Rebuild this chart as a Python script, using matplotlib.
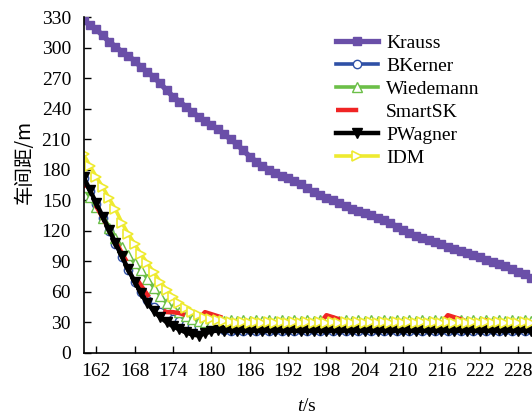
import numpy as np
import matplotlib
matplotlib.use("Agg")
import matplotlib.pyplot as plt

plt.rcParams['font.family'] = ['Liberation Serif', 'DejaVu Serif']
plt.rcParams['mathtext.fontset'] = 'custom'
plt.rcParams['mathtext.it'] = 'Liberation Serif:italic'
plt.rcParams['mathtext.rm'] = 'Liberation Serif'

#=============================================================================
# DATA  (gap in m, one sample per second from t = 160 s to 230 s)
#=============================================================================

t = np.arange(160, 231)

krauss = [327, 322, 318, 312, 306, 301, 296, 292, 287, 281,
          276, 271, 265, 258, 252, 247, 242, 237, 232, 228,
          224, 220, 215, 210, 205, 199, 193, 188, 184, 180,
          177, 174, 172, 169, 166, 162, 158, 155, 152, 150,
          147, 144, 141, 139, 137, 135, 133, 131, 128, 124,
          121, 118, 115, 113, 111, 109, 107, 104, 102, 100,
          98, 96, 94, 91, 89, 87, 85, 82, 79, 77, 74]

bkerner = [172, 159, 146, 133, 120, 107, 94, 81, 70, 60,
           52, 45, 40, 36, 33, 31, 28, 26, 25, 25,
           26, 24, 22, 21, 22, 21, 22, 21, 22, 21,
           22, 21, 22, 21, 22, 21, 22, 21, 22, 21,
           22, 21, 22, 21, 22, 21, 22, 21, 22, 21,
           22, 21, 22, 21, 22, 21, 22, 21, 22, 21,
           22, 21, 22, 21, 22, 21, 22, 21, 22, 21, 22]

wiedemann = [163, 153, 143, 133, 123, 113, 104, 96, 88, 81,
             73, 64, 56, 49, 44, 40, 36, 33, 31, 30,
             30, 31, 31, 32, 31, 32, 31, 32, 31, 32,
             31, 32, 31, 32, 31, 32, 31, 32, 31, 32,
             31, 32, 31, 32, 31, 32, 31, 32, 31, 32,
             31, 32, 31, 32, 31, 32, 31, 32, 31, 32,
             31, 32, 31, 32, 31, 32, 31, 32, 31, 32, 31]

smartsk = [168, 156, 144, 133, 121, 110, 98, 87, 76, 66,
           57, 49, 43, 40, 40, 39, 37, 35, 33, 40,
           38, 36, 34, 32, 31, 30, 29, 29, 29, 29,
           29, 29, 29, 29, 29, 29, 29, 29, 37, 35,
           33, 31, 30, 29, 29, 29, 29, 29, 29, 29,
           29, 29, 29, 29, 29, 29, 29, 37, 35, 33,
           31, 30, 29, 32, 30, 29, 29, 29, 29, 29, 29]

pwagner = [173, 160, 147, 134, 121, 108, 95, 82, 70, 59,
           49, 41, 35, 30, 26, 23, 20, 18, 17, 19,
           21, 22, 21, 22, 21, 22, 21, 22, 21, 22,
           21, 22, 21, 22, 21, 22, 21, 22, 21, 22,
           21, 22, 21, 22, 21, 22, 21, 22, 21, 22,
           21, 22, 21, 22, 21, 22, 21, 22, 21, 22,
           21, 22, 21, 22, 21, 22, 21, 22, 21, 22, 21]

idm = [195, 184, 173, 163, 152, 141, 128, 117, 107, 97,
       88, 79, 70, 62, 55, 49, 44, 40, 37, 34,
       33, 32, 31, 30, 29, 30, 29, 30, 29, 30,
       29, 30, 29, 30, 29, 30, 29, 30, 29, 30,
       29, 30, 29, 30, 29, 30, 29, 30, 29, 30,
       29, 30, 29, 30, 29, 30, 29, 30, 29, 30,
       29, 30, 29, 30, 29, 30, 29, 30, 29, 30, 29]

xticks = [162, 168, 174, 180, 186, 192, 198, 204, 210, 216, 222, 228]
yticks = [0, 30, 60, 90, 120, 150, 180, 210, 240, 270, 300, 330]

#=============================================================================
# PLOT
#=============================================================================

fig = plt.figure(figsize=(5.32, 4.19), dpi=100)
ax = fig.add_axes([0.157, 0.158, 0.841, 0.801])

ax.plot(t, krauss, color='#6a4fa8', lw=3.8, marker='s', ms=6,
        mfc='#6a4fa8', mec='#6a4fa8', label='Krauss')
ax.plot(t, bkerner, color='#2f50a6', lw=2.6, marker='o', ms=6,
        mfc='white', mec='#2f50a6', mew=1.0, label='BKerner')
ax.plot(t, wiedemann, color='#6cbf48', lw=2.6, marker='^', ms=7,
        mfc='white', mec='#6cbf48', mew=1.0, label='Wiedemann')
# long dashes, phase shifted so the on-parts fall on the overshoots
ax.plot(t, smartsk, color='#f02424', lw=3.2, ls=(3.6, (5.0, 4.48)),
        label='SmartSK')
ax.plot(t, pwagner, color='black', lw=3.2, marker='v', ms=7,
        mfc='black', mec='black', label='PWagner')
ax.plot(t, idm, color='#eeea30', lw=2.6, marker='>', ms=7,
        mfc='white', mec='#eeea30', mew=1.2, label='IDM')

ax.set_xlim(160, 230)
ax.set_ylim(0, 330)
ax.set_xticks(xticks)
ax.set_yticks(yticks)
ax.tick_params(direction='in', length=5, width=1, labelsize=14)
ax.tick_params(axis='y', pad=9)
ax.tick_params(axis='x', pad=7)
for s in ['top', 'right']:
    ax.spines[s].set_visible(False)
for s in ['left', 'bottom']:
    ax.spines[s].set_linewidth(1.2)

ax.set_xlabel('$t$/s', fontsize=14, labelpad=13)
ax.set_ylabel('车间距/m', fontsize=14,
              family=['Noto Sans CJK SC', 'Liberation Serif'])
ax.yaxis.set_label_coords(-0.11, 0.57)

leg = ax.legend(loc='upper left', bbox_to_anchor=(0.631, 0.918),
                bbox_transform=fig.transFigure, frameon=False, fontsize=14,
                handlelength=2.2, handletextpad=0.4, labelspacing=0.28,
                borderpad=0, borderaxespad=0)
leg.get_lines()[3].set_linestyle((0, (5, 6)))

plt.savefig('out.png', dpi=100)
